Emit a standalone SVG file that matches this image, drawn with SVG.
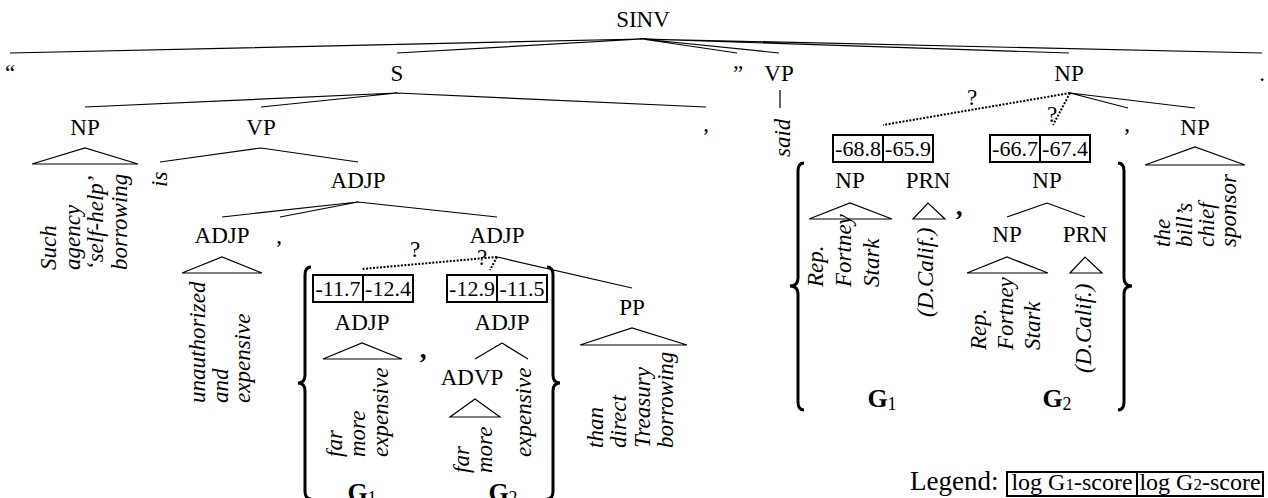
<svg xmlns="http://www.w3.org/2000/svg" width="1268" height="498" viewBox="0 0 1268 498">
<style>
text { font-family: "Liberation Serif", "Times New Roman", serif; font-size: 23px; fill: #000; }
.lab { text-anchor: middle; }
.leaf { font-style: italic; }
.e { stroke: #000; stroke-width: 1.2; fill: none; }
.dot { stroke: #000; stroke-width: 2; stroke-dasharray: 2 1.5; fill: none; }
.tri { stroke: #000; stroke-width: 1.2; fill: none; }
.box { stroke: #000; stroke-width: 2; fill: none; }
.brace { stroke: #000; stroke-width: 3; fill: none; }
.num { text-anchor: middle; font-size: 22px; }
.g { text-anchor: middle; font-weight: bold; font-size: 26px; }
.sub { font-weight: normal; font-size: 18px; }
.bc { font-weight: bold; font-size: 27px; text-anchor: middle; }
</style>

<g id="connectors">
  <path class="e" d="M642 39 L10 53 M642 39 L397 53 M642 39 L737 53 M642 39 L779 53 M642 39 L1069 53 M642 39 L1262 53"/>
  <path class="e" d="M397 93 L85 107 M397 93 L261 107 M397 93 L706 107"/>
  <path class="e" d="M261 148 L160 162 M261 148 L358 162"/>
  <path class="e" d="M358 202 L222 217 M358 202 L280 217 M358 202 L497 217"/>
  <path class="dot" d="M497 257 L362 269 M497 257 L490 270"/>
  <path class="e" d="M497 257 L632 288"/>
  <path class="e" d="M502 343 L475 359 M502 343 L528 359"/>
  <path class="e" d="M780 90 L780 108"/>
  <path class="dot" d="M1070 93 L883 125 M1070 93 L1053 125"/>
  <path class="e" d="M1070 93 L1128 108 M1070 93 L1195 108"/>
  <path class="e" d="M1047 203 L1007 217 M1047 203 L1085 217"/>
  <polygon class="tri" points="32,164 85,148 138,164"/>
  <polygon class="tri" points="182,273 222,257 262,273"/>
  <polygon class="tri" points="580,345 632,328 687,345"/>
  <polygon class="tri" points="323,359 362,343 402,359"/>
  <polygon class="tri" points="450,417 475,399 500,417"/>
  <polygon class="tri" points="1145,165 1195,147 1245,165"/>
  <polygon class="tri" points="809,219 850,203 892,219"/>
  <polygon class="tri" points="913,219 928,203 945,219"/>
  <polygon class="tri" points="967,273 1007,257 1048,273"/>
  <polygon class="tri" points="1070,273 1085,257 1102,273"/>
  <path class="brace" d="M311 267 Q305 267 305 275 L305 375 Q305 383 298 383 Q305 383 305 391 L305 491 Q305 499 311 499"/>
  <path class="brace" d="M547 267 Q553 267 553 275 L553 375 Q553 383 560 383 Q553 383 553 391 L553 491 Q553 499 547 499"/>
  <path class="brace" d="M804 163 Q798 163 798 171 L798 278 Q798 286 790 286 Q798 286 798 294 L798 402 Q798 410 804 410"/>
  <path class="brace" d="M1118 163 Q1124 163 1124 171 L1124 278 Q1124 286 1132 286 Q1124 286 1124 294 L1124 402 Q1124 410 1118 410"/>
</g>

<g id="n-sinv"><text class="lab" x="643" y="27">SINV</text></g>
<g id="n-lquote"><text class="lab" x="10" y="81">“</text></g>
<g id="n-s"><text class="lab" x="397" y="81">S</text></g>
<g id="n-rquote"><text class="lab" x="738" y="81">”</text></g>
<g id="n-vp-said"><text class="lab" x="779" y="81">VP</text>
  <text class="leaf" transform="translate(790 157) rotate(-90)">said</text></g>
<g id="n-np-top"><text class="lab" x="1069" y="81">NP</text></g>
<g id="n-period"><text class="lab" x="1262" y="81">.</text></g>

<g id="n-np1"><text class="lab" x="85" y="135">NP</text>
  <text class="leaf" transform="translate(56 270) rotate(-90)">Such</text>
  <text class="leaf" transform="translate(79.5 270) rotate(-90)">agency</text>
  <text class="leaf" transform="translate(103 270) rotate(-90)">‘self-help’</text>
  <text class="leaf" transform="translate(126.5 270) rotate(-90)">borrowing</text>
</g>
<g id="n-vp1"><text class="lab" x="261" y="135">VP</text>
  <text class="leaf" transform="translate(167 187) rotate(-90)">is</text></g>
<g id="n-comma1"><text class="lab" x="706" y="131">,</text></g>

<g id="n-adjp-top"><text class="lab" x="358" y="188">ADJP</text></g>
<g id="n-adjp-left"><text class="lab" x="222" y="243">ADJP</text>
  <text class="leaf" transform="translate(205 403) rotate(-90)">unauthorized</text>
  <text class="leaf" transform="translate(227.5 403) rotate(-90)">and</text>
  <text class="leaf" transform="translate(250 403) rotate(-90)">expensive</text>
</g>
<g id="n-comma2"><text class="lab" x="279" y="243">,</text></g>
<g id="n-adjp-right"><text class="lab" x="497" y="243">ADJP</text>
  <text class="lab" x="415" y="257">?</text>
  <text class="lab" x="482" y="265">?</text>
</g>
<g id="n-pp"><text class="lab" x="632" y="315">PP</text>
  <text class="leaf" transform="translate(603 448) rotate(-90)">than</text>
  <text class="leaf" transform="translate(626.3 448) rotate(-90)">direct</text>
  <text class="leaf" transform="translate(649.6 448) rotate(-90)">Treasury</text>
  <text class="leaf" transform="translate(673 448) rotate(-90)">borrowing</text>
</g>

<g id="n-alt-left-g1">
  <rect class="box" x="313" y="275" width="100" height="27"/>
  <line class="box" x1="363" y1="275" x2="363" y2="302"/>
  <text class="num" x="338" y="296">-11.7</text>
  <text class="num" x="388" y="296">-12.4</text>
  <text class="lab" x="362" y="330">ADJP</text>
  <text class="leaf" transform="translate(342 457) rotate(-90)">far</text>
  <text class="leaf" transform="translate(365 457) rotate(-90)">more</text>
  <text class="leaf" transform="translate(388 457) rotate(-90)">expensive</text>
  <text class="g" x="362" y="501">G<tspan class="sub" dy="3">1</tspan></text>
</g>
<g id="n-bcomma1"><text class="bc" x="423" y="358">,</text></g>
<g id="n-alt-left-g2">
  <rect class="box" x="447" y="275" width="100" height="27"/>
  <line class="box" x1="497" y1="275" x2="497" y2="302"/>
  <text class="num" x="472" y="296">-12.9</text>
  <text class="num" x="522" y="296">-11.5</text>
  <text class="lab" x="502" y="330">ADJP</text>
  <text class="lab" x="472" y="385">ADVP</text>
  <text class="leaf" transform="translate(469 473) rotate(-90)">far</text>
  <text class="leaf" transform="translate(492 473) rotate(-90)">more</text>
  <text class="leaf" transform="translate(531 457) rotate(-90)">expensive</text>
  <text class="g" x="503" y="501">G<tspan class="sub" dy="3">2</tspan></text>
</g>

<g id="n-comma3"><text class="lab" x="1127" y="131">,</text></g>
<g id="n-np-sponsor"><text class="lab" x="1195" y="135">NP</text>
  <text class="leaf" transform="translate(1170 247) rotate(-90)">the</text>
  <text class="leaf" transform="translate(1192 247) rotate(-90)">bill’s</text>
  <text class="leaf" transform="translate(1214 247) rotate(-90)">chief</text>
  <text class="leaf" transform="translate(1236 247) rotate(-90)">sponsor</text>
</g>
<g id="n-np-q"><text class="lab" x="972" y="105">?</text><text class="lab" x="1052" y="122">?</text></g>

<g id="n-alt-right-g1">
  <rect class="box" x="833" y="135" width="100" height="27"/>
  <line class="box" x1="883" y1="135" x2="883" y2="162"/>
  <text class="num" x="858" y="156">-68.8</text>
  <text class="num" x="908" y="156">-65.9</text>
  <text class="lab" x="850" y="188">NP</text>
  <text class="lab" x="928" y="188">PRN</text>
  <text class="leaf" transform="translate(823 287) rotate(-90)">Rep.</text>
  <text class="leaf" transform="translate(851 287) rotate(-90)">Fortney</text>
  <text class="leaf" transform="translate(879 287) rotate(-90)">Stark</text>
  <text class="leaf" transform="translate(933 317) rotate(-90)">(D.Calif.)</text>
  <text class="g" x="882" y="407">G<tspan class="sub" dy="3">1</tspan></text>
</g>
<g id="n-bcomma2"><text class="bc" x="959" y="215">,</text></g>
<g id="n-alt-right-g2">
  <rect class="box" x="990" y="135" width="100" height="27"/>
  <line class="box" x1="1040" y1="135" x2="1040" y2="162"/>
  <text class="num" x="1015" y="156">-66.7</text>
  <text class="num" x="1065" y="156">-67.4</text>
  <text class="lab" x="1047" y="188">NP</text>
  <text class="lab" x="1007" y="242">NP</text>
  <text class="lab" x="1085" y="242">PRN</text>
  <text class="leaf" transform="translate(986 350) rotate(-90)">Rep.</text>
  <text class="leaf" transform="translate(1013 350) rotate(-90)">Fortney</text>
  <text class="leaf" transform="translate(1040 350) rotate(-90)">Stark</text>
  <text class="leaf" transform="translate(1091 373) rotate(-90)">(D.Calif.)</text>
  <text class="g" x="1057" y="407">G<tspan class="sub" dy="3">2</tspan></text>
</g>

<g id="legend">
  <text x="910" y="490" style="font-size:27px">Legend:</text>
  <rect class="box" x="1007" y="472" width="130" height="24"/>
  <rect class="box" x="1137" y="472" width="126" height="24"/>
  <text class="lab" x="1072" y="490" style="font-size:24px">log G<tspan style="font-size:17px">1</tspan>-score</text>
  <text class="lab" x="1200" y="490" style="font-size:24px">log G<tspan style="font-size:17px">2</tspan>-score</text>
</g>
</svg>
